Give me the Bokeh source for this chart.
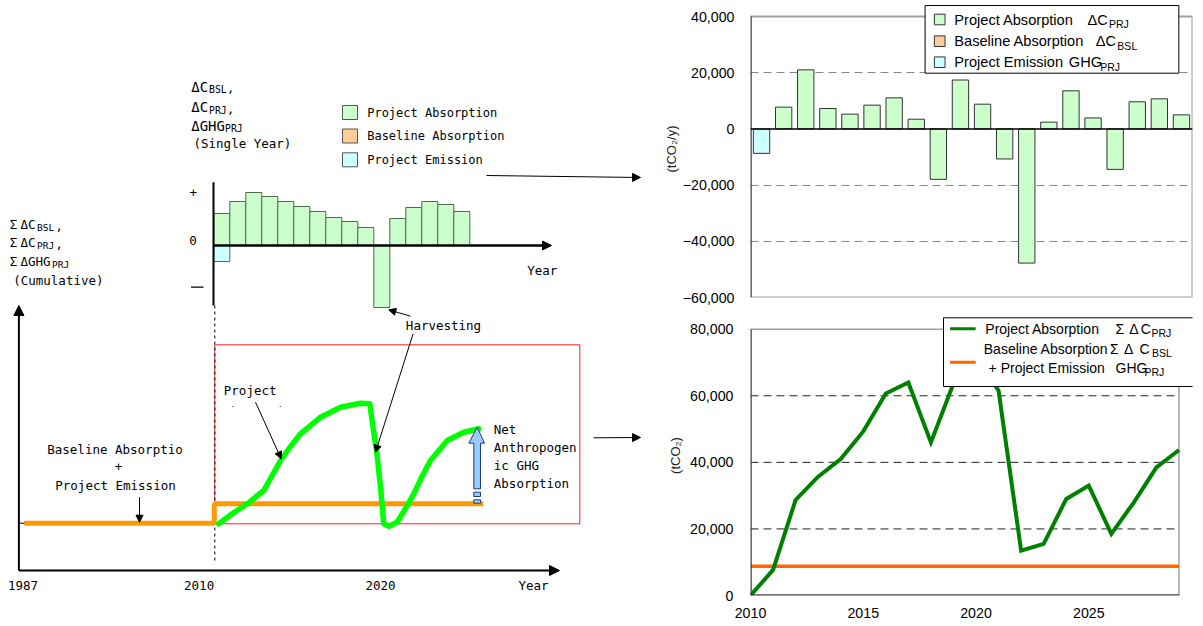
from bokeh.plotting import figure
from bokeh.models import (Range1d, Arrow, NormalHead, BoxAnnotation, Label,
                          FixedTicker, CustomJSTickFormatter)
from bokeh.layouts import row, column
from bokeh.core.properties import value
from bokeh.embed import file_html
from bokeh.resources import INLINE

# ---------------- data (right charts) ----------------
YEARS = list(range(2010, 2030))
PRJ_ABSORPTION = [0, 7750, 21000, 7250, 5250, 8450, 11050, 3450, -17950, 17400,
                  8800, -10700, -47750, 2400, 13550, 3900, -14400, 9650, 10700, 5000]
PRJ_EMISSION = [-8700] + [0] * 19
CUM_PRJ = [0, 7700, 28700, 35700, 41000, 49300, 60700, 64000, 46000, 63700,
           72500, 61500, 13500, 15500, 29000, 33000, 18500, 28000, 38500, 43700]
CUM_BSL_EMI = [8800] * 20
TOP_TICKS = [-60000, -40000, -20000, 0, 20000, 40000]
TOP_GRID = [-40000, -20000, 20000]
BOT_TICKS = [0, 20000, 40000, 60000, 80000]
BOT_GRID = [20000, 40000, 60000]
BOT_XTICKS = [2010, 2015, 2020, 2025]

# ---------------- data (schematic, illustrative units) ----------------
SCHEM_ANNUAL = [32, 44, 53, 49, 44, 39, 34, 28, 24, 18, -62, 27, 38, 44, 41, 34]
SCHEM_EMISSION = -16
CURVE_YEARS = [2010.25, 2011.11, 2012.03, 2013.06, 2014.11, 2014.73, 2015.36, 2016.61,
               2017.86, 2019.11, 2019.69, 2019.89, 2020.11, 2020.36, 2020.56, 2020.88,
               2021.4, 2021.92, 2022.44, 2022.95, 2023.48, 2024.53, 2025.56, 2026.5]
CURVE_VALUES = [-0.6, 9.7, 19.4, 32.7, 62.7, 76.7, 89.4, 106, 116, 120, 119.4, 95.7,
                72.7, 35.7, -0.6, -3, 1, 14.7, 29.4, 46.7, 62.7, 82.7, 91, 94.4]
BASELINE_YEARS = [1987, 2009.94, 2009.94, 2026.78]
BASELINE_VALUES = [0, 0, 19.4, 19.4]
AXIS_LABELS = ["1987", "2010", "2020", "Year"]

MONO = "DejaVu Sans Mono"
SANS = "Liberation Sans"

# ---------------- schematic figure ----------------
p0 = figure(width=660, height=626, x_range=Range1d(0, 660), y_range=Range1d(626, 0),
            x_axis_type=None, y_axis_type=None, output_backend="svg",
            toolbar_location=None, min_border=0)
p0.grid.visible = False
p0.outline_line_color = None

BX0, SLOT, BY0 = 213.3, 16.0, 245.0         # single-year panel origin
CX2010, CY0 = 214.3, 522.7                  # cumulative panel origin


def sx(yr):
    if yr <= 2010:
        return 23.7 + (yr - 1987) * (CX2010 - 23.7) / 23.0
    return CX2010 + (yr - 2010) * SLOT


def txt(x, y, s, size="12.5px", align="left", font=MONO, color="black"):
    p0.text(x=[x], y=[y], text=[s], text_font=value(font), text_font_size=value(size),
            text_align=align, text_baseline="middle", text_color=color)


def arrow(x0, y0, x1, y1, w=1, size=7):
    p0.add_layout(Arrow(x_start=x0, y_start=y0, x_end=x1, y_end=y1, line_width=w,
                        line_color="black",
                        end=NormalHead(size=size, fill_color="black", line_color="black")))


# single-year bars
lefts = [BX0 + i * SLOT for i in range(len(SCHEM_ANNUAL))]
p0.quad(left=lefts, right=[l + SLOT for l in lefts],
        top=[BY0 - max(v, 0) for v in SCHEM_ANNUAL],
        bottom=[BY0 - min(v, 0) for v in SCHEM_ANNUAL],
        fill_color="#CCFFCC", line_color="#4D6B4D", line_width=1)
p0.quad(left=[BX0], right=[BX0 + SLOT], top=[BY0], bottom=[BY0 - SCHEM_EMISSION],
        fill_color="#CCFFFF", line_color="#4D6B6B", line_width=1)
p0.segment(x0=[213], y0=[181.7], x1=[213], y1=[305], line_color="black", line_width=2)
arrow(213, BY0, 551, BY0, w=2.5, size=9)
p0.segment(x0=[190.5], y0=[286.7], x1=[203], y1=[286.7], line_color="black", line_width=1.2)
txt(192.7, 191.5, "+", align="center")
txt(192.5, 239.5, "0", align="center")
txt(541.7, 270, "Year", align="center")

# single-year legend
LEG_ROWS = [112, 135.5, 159.3]
LEG_COLORS = ["#CCFFCC", "#FFCC99", "#CCFFFF"]
LEG_TEXT = ["Project Absorption", "Baseline Absorption", "Project Emission"]
p0.quad(left=[342] * 3, right=[357] * 3, top=[r - 7 for r in LEG_ROWS],
        bottom=[r + 7 for r in LEG_ROWS], fill_color=LEG_COLORS, line_color="#555555")
for r, t in zip(LEG_ROWS, LEG_TEXT):
    txt(366.7, r, t, size="12px")

# label blocks
for (yy, main, sub, subx, commax) in [(86, "ΔC", "BSL", 208.5, 226.5),
                                       (106.7, "ΔC", "PRJ", 208.5, 226.5),
                                       (125, "ΔGHG", "PRJ", 224.5, None)]:
    txt(190.7, yy, main, size="14px")
    txt(subx, yy + 3, sub, size="9.8px")
    if commax:
        txt(commax, yy + 1, ",", size="12px")
txt(193, 143, "(Single Year)")

for (yy, main, sub, subx, commax) in [(224, "C", "BSL", 36.5, 55),
                                       (242.3, "C", "PRJ", 36.5, 55),
                                       (261, "GHG", "PRJ", 51.5, None)]:
    txt(9.3, yy, "Σ", size="12.5px")
    txt(20, yy, "Δ", size="12.5px")
    txt(27.5, yy, main, size="12.5px")
    txt(subx, yy + 3, sub, size="9.5px")
    if commax:
        txt(commax, yy + 1, ",", size="12px")
txt(12.7, 280, "(Cumulative)")

# cumulative panel
p0.quad(left=[CX2010], right=[579.3], top=[344.3], bottom=[523.3], fill_color=None,
        line_color="#FF2020", line_width=1)
p0.segment(x0=[214.3], y0=[305], x1=[214.3], y1=[561.7], line_color="black",
           line_width=1, line_dash="3 3")
p0.line([sx(y) for y in BASELINE_YEARS], [CY0 - v for v in BASELINE_VALUES],
        line_color="#FF9900", line_width=5)
p0.line([sx(y) for y in CURVE_YEARS], [CY0 - v for v in CURVE_VALUES],
        line_color="#00FF00", line_width=5.5, line_join="round", line_cap="round")
arrow(18.4, 570, 18.4, 305, w=2, size=10)
arrow(18.4, 570, 559, 570, w=2, size=10)
p0.segment(x0=[19], y0=[CY0], x1=[24], y1=[CY0], line_color="black", line_width=1)
for xx, lab in zip([22.5, 198.6, 380, 533], AXIS_LABELS):
    txt(xx, 585, lab, align="center")

# blue net arrow
p0.patch([473.3, 473.3, 468.3, 476.7, 484, 480, 480],
         [488.3, 442.7, 442.7, 426.7, 442.7, 442.7, 488.3],
         fill_color="#99CCFF", line_color="#1F3F6F", line_width=1)
p0.quad(left=[473.3, 473.3], right=[480, 480], top=[491.7, 499.3],
        bottom=[496, 502.7], fill_color="#99CCFF", line_color="#1F3F6F", line_width=1)

# annotations
txt(443, 325, "Harvesting", align="center")
txt(223.3, 390, "Project")
txt(223.3, 411, "Absorption")
p0.quad(left=[220], right=[300], top=[406.2], bottom=[420], fill_color="white",
        line_color=None)
txt(114.5, 449, "Baseline Absorptio", align="center")
txt(118, 466, "+", align="center")
txt(115, 485, "Project Emission", align="center")
for yy, t in zip([429.3, 447.3, 465, 483.3], ["Net", "Anthropogen", "ic GHG", "Absorption"]):
    txt(493.3, yy, t)

arrow(255, 401.7, 280.7, 458.3)
arrow(412.6, 333.3, 375, 451.7)
arrow(410, 315.7, 388.3, 309.3)
arrow(139, 496.7, 139, 521.7)
arrow(486, 175, 640, 177, size=8)
arrow(593, 437.3, 640, 437, size=8)

# ---------------- helpers for right charts ----------------
neg_fmt = CustomJSTickFormatter(code="""
const s = Math.abs(tick).toLocaleString('en-US');
return tick < 0 ? '\u2212' + s : s;
""")


def style_axis(ax):
    ax.major_label_text_font = SANS
    ax.major_label_text_font_size = "14.2px"
    ax.major_label_text_color = "black"
    ax.major_tick_out = 0
    ax.major_tick_in = 0
    ax.minor_tick_out = 0
    ax.minor_tick_in = 0
    ax.axis_line_color = None
    ax.axis_label_text_font = SANS
    ax.axis_label_text_font_size = "13px"
    ax.axis_label_text_font_style = "normal"
    ax.axis_label_text_color = "#222222"


def mklabel(p, x, y, t, size="14.5px"):
    p.add_layout(Label(x=x, y=y, text=t, text_font=SANS, text_font_size=size,
                       text_baseline="middle", text_align="left", text_color="black"))


# ---------------- top right: annual bars ----------------
T_TOP_PX, T_SCALE = 16.0, 100000 / 281       # y pixel of 40,000 ; units per px
p1 = figure(width=543, height=313, x_range=Range1d(2009.5, 2029.5),
            y_range=Range1d(-60000, 40000 + T_TOP_PX * T_SCALE), x_axis_type=None,
            output_backend="svg", toolbar_location=None,
            min_border_left=89, min_border_right=11, min_border_top=0, min_border_bottom=16)
p1.xgrid.visible = False
p1.ygrid.ticker = FixedTicker(ticks=TOP_GRID)
p1.ygrid.grid_line_color = "#888888"
p1.ygrid.grid_line_dash = "8 5"
p1.yaxis.ticker = FixedTicker(ticks=TOP_TICKS)
p1.yaxis.formatter = neg_fmt
style_axis(p1.yaxis[0])
p1.yaxis.major_label_standoff = 16
p1.yaxis.axis_label = "(tCO₂/y)"
p1.yaxis.axis_label_standoff = 1
p1.outline_line_color = None

p1.vbar(x=YEARS[1:], top=PRJ_ABSORPTION[1:], bottom=0, width=0.74,
        fill_color="#CCFFCC", line_color="#333333", line_width=1)
p1.vbar(x=YEARS[:1], top=PRJ_EMISSION[:1], bottom=0, width=0.74,
        fill_color="#CCFFFF", line_color="#333333", line_width=1)
# frame borders and zero line
p1.segment(x0=[2009.5, 2009.5, 2029.5], y0=[40000, -60000, -60000],
           x1=[2029.5, 2029.5, 2029.5], y1=[40000, -60000, 40000],
           line_color="#A0A0A0", line_width=2)
p1.segment(x0=[2009.5], y0=[-60000], x1=[2009.5], y1=[40000], line_color="#404040",
           line_width=2.5)
p1.segment(x0=[2009.5], y0=[0], x1=[2029.5], y1=[0], line_color="black", line_width=1.5)


def t_px(px):
    return 2009.5 + (px - 749) * 20 / 443


def t_py(py):
    return 40000 - (py - T_TOP_PX) * T_SCALE


p1.add_layout(BoxAnnotation(left=t_px(924), right=t_px(1178.3), top=t_py(5),
                            bottom=t_py(72.7), fill_color="white", fill_alpha=1,
                            line_color="black", line_width=1, line_alpha=1))
TOP_ROWS = [19, 40.7, 61.7]
for r, c in zip(TOP_ROWS, LEG_COLORS):
    p1.add_layout(BoxAnnotation(left=t_px(933.3), right=t_px(944), top=t_py(r - 5.3),
                                bottom=t_py(r + 5.3), fill_color=c, fill_alpha=1,
                                line_color="#333333", line_width=1, line_alpha=1))
for r, t in zip(TOP_ROWS, LEG_TEXT):
    mklabel(p1, t_px(953.3), t_py(r), t, size="14.6px")
mklabel(p1, t_px(1086.7), t_py(19), "ΔC", size="14.6px")
mklabel(p1, t_px(1108.3), t_py(23.3), "PRJ", size="10.5px")
mklabel(p1, t_px(1095), t_py(40.7), "ΔC", size="14.6px")
mklabel(p1, t_px(1116.7), t_py(45), "BSL", size="10.5px")
mklabel(p1, t_px(1068), t_py(61.7), "GHG", size="14.6px")
mklabel(p1, t_px(1099.5), t_py(66), "PRJ", size="10.5px")

# ---------------- bottom right: cumulative lines ----------------
B_TOP_PX, B_SCALE = 328.7, 80000 / 266.3     # y pixel of 80,000 ; units per px
B_X_PER_PX = 19 / 444
p2 = figure(width=543, height=313, x_range=Range1d(2010, 2029 + 14 * B_X_PER_PX),
            y_range=Range1d(0, 80000 + (B_TOP_PX - 315) * B_SCALE),
            output_backend="svg", toolbar_location=None,
            min_border_left=85, min_border_right=0, min_border_top=2, min_border_bottom=31)
p2.xgrid.visible = False
p2.ygrid.visible = False
p2.yaxis.ticker = FixedTicker(ticks=BOT_TICKS)
p2.yaxis.formatter = neg_fmt
p2.xaxis.ticker = FixedTicker(ticks=BOT_XTICKS)
style_axis(p2.yaxis[0])
style_axis(p2.xaxis[0])
p2.yaxis.major_label_standoff = 17
p2.yaxis.axis_label = "(tCO₂)"
p2.yaxis.axis_label_standoff = 4
p2.xaxis.major_label_standoff = 12
p2.outline_line_color = None

p2.segment(x0=[2010] * 3, y0=BOT_GRID, x1=[2029] * 3, y1=BOT_GRID,
           line_color="#222222", line_width=1, line_dash="8 5")
p2.segment(x0=[2010, 2029], y0=[80000, 0], x1=[2029, 2029], y1=[80000, 80000],
           line_color="#A0A0A0", line_width=1.5)
p2.line(YEARS, CUM_BSL_EMI, line_color="#FF6600", line_width=3.5)
p2.line(YEARS, CUM_PRJ, line_color="#008000", line_width=4, line_join="miter")
p2.segment(x0=[2010, 2010], y0=[0, 0], x1=[2010, 2029], y1=[80000, 0],
           line_color="#404040", line_width=2.5)


def b_px(px):
    return 2010 + (px - 745) * B_X_PER_PX


def b_py(py):
    return 80000 - (py - B_TOP_PX) * B_SCALE


p2.add_layout(BoxAnnotation(left=b_px(945), right=b_px(1215), top=b_py(317.3),
                            bottom=b_py(386), fill_color="white", fill_alpha=1,
                            line_color="black", line_width=1, line_alpha=1))
p2.add_layout(BoxAnnotation(left=b_px(951.7), right=b_px(978.3), top=b_py(326.8),
                            bottom=b_py(329.8), fill_color="#008000", fill_alpha=1,
                            line_color=None))
p2.add_layout(BoxAnnotation(left=b_px(951.7), right=b_px(978.3), top=b_py(360.2),
                            bottom=b_py(363.2), fill_color="#FF6600", fill_alpha=1,
                            line_color=None))
BL = "14px"
SB = "10.5px"
mklabel(p2, b_px(988.3), b_py(328.3), "Project Absorption", size=BL)
mklabel(p2, b_px(1123.3), b_py(328.3), "Σ", size=BL)
mklabel(p2, b_px(1137.5), b_py(328.3), "Δ", size=BL)
mklabel(p2, b_px(1149.5), b_py(328.3), "C", size=BL)
mklabel(p2, b_px(1160.5), b_py(332.7), "PRJ", size=SB)
mklabel(p2, b_px(986.7), b_py(348.3), "Baseline Absorption", size=BL)
mklabel(p2, b_px(1117.5), b_py(348.3), "Σ", size=BL)
mklabel(p2, b_px(1132), b_py(348.3), "Δ", size=BL)
mklabel(p2, b_px(1148), b_py(348.3), "C", size=BL)
mklabel(p2, b_px(1161), b_py(352.7), "BSL", size=SB)
mklabel(p2, b_px(991.7), b_py(367.7), "+ Project Emission", size=BL)
mklabel(p2, b_px(1123.3), b_py(367.7), "GHG", size=BL)
mklabel(p2, b_px(1153.3), b_py(371.7), "PRJ", size=SB)

layout = row(p0, column(p1, p2))
open("out.html", "w").write(file_html(layout, INLINE))
